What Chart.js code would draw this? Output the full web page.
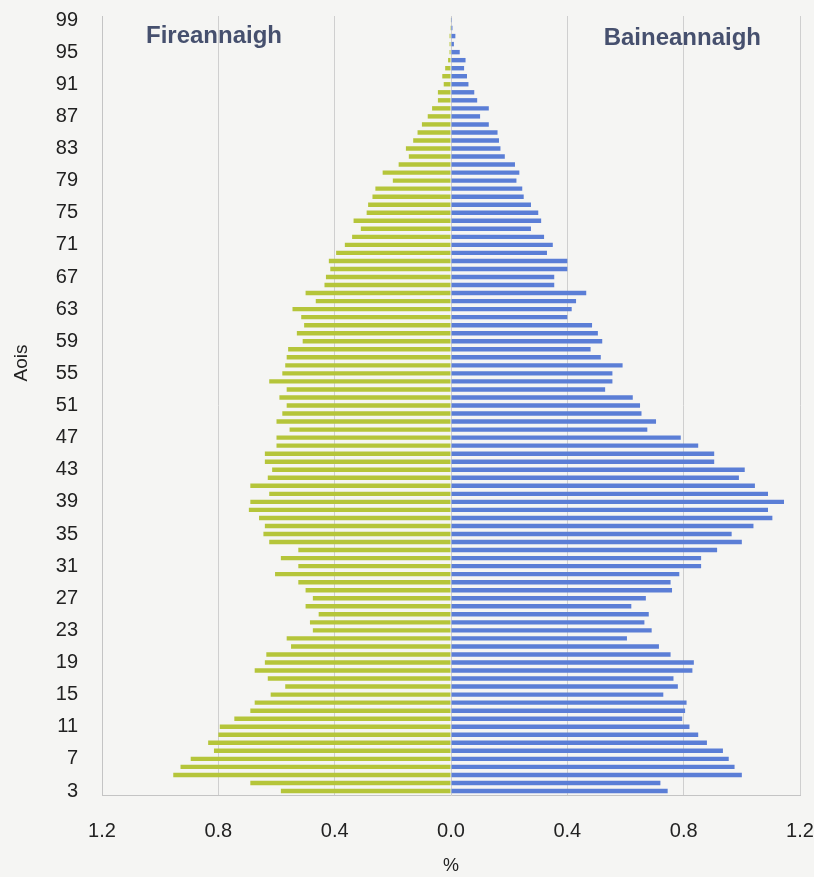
<!DOCTYPE html>
<html lang="ga">
<head>
    <meta charset="UTF-8" />
    <title>Pirimid aoise</title>
    <script src="https://cdn.jsdelivr.net/npm/chart.js"></script>
    <style>
        html, body { margin: 0; padding: 0; background: #f5f5f3; }
        #wrap { width: 814px; height: 877px; }
    </style>
</head>
<body>
    <div id="wrap"><canvas id="pyramid" width="814" height="877"></canvas></div>

    <script>
        // ages 3..99, bottom to top
        const ages = [];
        for (let a = 3; a <= 99; a++) ages.push(a);

        // Fireannaigh (%), ages 3..99
        const fireannaigh = [
            0.585, 0.69, 0.955, 0.93, 0.895, 0.815, 0.835, 0.80, 0.795, 0.745,
            0.69, 0.675, 0.62, 0.57, 0.63, 0.675, 0.64, 0.635, 0.55, 0.565,
            0.475, 0.485, 0.455, 0.50, 0.475, 0.50, 0.525, 0.605, 0.525, 0.585,
            0.525, 0.625, 0.645, 0.64, 0.66, 0.695, 0.69, 0.625, 0.69, 0.63,
            0.615, 0.64, 0.64, 0.60, 0.60, 0.555, 0.60, 0.58, 0.565, 0.59,
            0.565, 0.625, 0.58, 0.57, 0.565, 0.56, 0.51, 0.53, 0.505, 0.515,
            0.545, 0.465, 0.50, 0.435, 0.43, 0.415, 0.42, 0.395, 0.365, 0.34,
            0.31, 0.335, 0.29, 0.285, 0.27, 0.26, 0.20, 0.235, 0.18, 0.145,
            0.155, 0.13, 0.115, 0.10, 0.08, 0.065, 0.045, 0.045, 0.025, 0.03,
            0.02, 0.01, 0.005, 0.005, 0.005, 0.003, 0.002
        ];

        // Baineannaigh (%), ages 3..99
        const baineannaigh = [
            0.745, 0.72, 1.00, 0.975, 0.955, 0.935, 0.88, 0.85, 0.82, 0.795,
            0.805, 0.81, 0.73, 0.78, 0.765, 0.83, 0.835, 0.755, 0.715, 0.605,
            0.69, 0.665, 0.68, 0.62, 0.67, 0.76, 0.755, 0.785, 0.86, 0.86,
            0.915, 1.00, 0.965, 1.04, 1.105, 1.09, 1.145, 1.09, 1.045, 0.99,
            1.01, 0.905, 0.905, 0.85, 0.79, 0.675, 0.705, 0.655, 0.65, 0.625,
            0.53, 0.555, 0.555, 0.59, 0.515, 0.48, 0.52, 0.505, 0.485, 0.40,
            0.415, 0.43, 0.465, 0.355, 0.355, 0.40, 0.40, 0.33, 0.35, 0.32,
            0.275, 0.31, 0.30, 0.275, 0.25, 0.245, 0.225, 0.235, 0.22, 0.185,
            0.17, 0.165, 0.16, 0.13, 0.10, 0.13, 0.09, 0.08, 0.06, 0.055,
            0.045, 0.05, 0.03, 0.01, 0.015, 0.005, 0.003
        ];

        const xTicks = [-1.2, -0.8, -0.4, 0, 0.4, 0.8, 1.2];

        const textColor = '#222222';
        const labelColor = '#46506e';
        const font = "'Liberation Sans', Arial, sans-serif";

        // side labels and axis title drawn straight on the canvas
        const labelsPlugin = {
            id: 'sideLabels',
            afterDraw(chart) {
                const ctx = chart.ctx;
                ctx.save();
                ctx.fillStyle = labelColor;
                ctx.font = "bold 24px " + font;
                ctx.textBaseline = 'middle';
                ctx.textAlign = 'left';
                ctx.fillText('Fireannaigh', 146, 36);
                ctx.textAlign = 'right';
                ctx.fillText('Baineannaigh', 761, 38);

                ctx.fillStyle = textColor;
                ctx.font = "19px " + font;
                ctx.translate(22, 363);
                ctx.rotate(-Math.PI / 2);
                ctx.textAlign = 'center';
                ctx.fillText('Aois', 0, 0);
                ctx.restore();
            }
        };

        new Chart(document.getElementById('pyramid'), {
            type: 'bar',
            data: {
                labels: ages,
                datasets: [
                    {
                        label: 'Fireannaigh',
                        data: fireannaigh.map(v => -v),
                        backgroundColor: '#b5c53a',
                        barPercentage: 0.55,
                        categoryPercentage: 1.0
                    },
                    {
                        label: 'Baineannaigh',
                        data: baineannaigh,
                        backgroundColor: '#5b7ed6',
                        barPercentage: 0.55,
                        categoryPercentage: 1.0
                    }
                ]
            },
            options: {
                indexAxis: 'y',
                responsive: false,
                animation: false,
                layout: { padding: { top: 16, right: 14, left: 0, bottom: 0 } },
                plugins: {
                    legend: { display: false },
                    tooltip: { enabled: false }
                },
                scales: {
                    x: {
                        stacked: true,
                        min: -1.2,
                        max: 1.2,
                        afterBuildTicks: axis => { axis.ticks = xTicks.map(v => ({ value: v })); },
                        afterFit: axis => {
                            axis.height = 82;
                            axis.paddingLeft = 0;
                            axis.paddingRight = 0;
                        },
                        grid: { color: '#cfcfcf', drawTicks: false },
                        border: { color: '#c4c4c4' },
                        ticks: {
                            padding: 24,
                            maxRotation: 0,
                            color: textColor,
                            font: { family: font, size: 20 },
                            callback: v => Math.abs(v).toFixed(1)
                        },
                        title: {
                            display: true,
                            text: '%',
                            color: textColor,
                            font: { family: font, size: 18 },
                            padding: { top: 10, bottom: 0 }
                        }
                    },
                    y: {
                        stacked: true,
                        reverse: true,
                        grid: { display: false },
                        border: { color: '#c4c4c4' },
                        afterFit: axis => {
                            axis.width = 102;
                            axis.paddingTop = 0;
                            axis.paddingBottom = 0;
                        },
                        ticks: {
                            autoSkip: false,
                            padding: 16,
                            color: textColor,
                            font: { family: font, size: 20 },
                            callback: function (val) {
                                const age = ages[val];
                                return (age - 3) % 4 === 0 ? String(age) : '';
                            }
                        }
                    }
                }
            },
            plugins: [labelsPlugin]
        });
    </script>
</body>
</html>
